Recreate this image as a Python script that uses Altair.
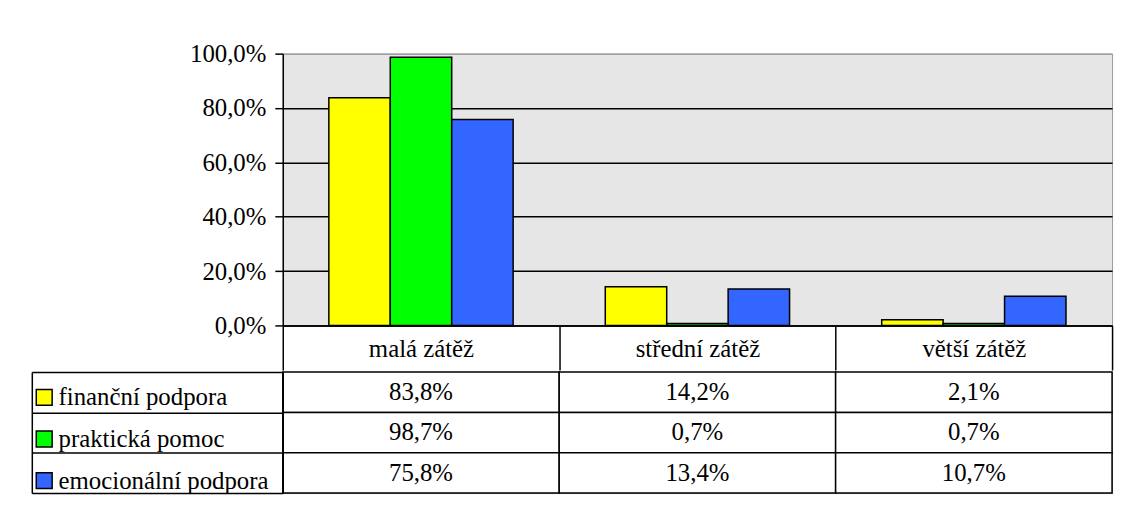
import altair as alt
import pandas as pd

categories = ["malá zátěž", "střední zátěž", "větší zátěž"]
series = ["finanční podpora", "praktická pomoc", "emocionální podpora"]
colors = ["#FFFF00", "#00FF00", "#3366FF"]
financni = [0.838, 0.142, 0.021]
prakticka = [0.987, 0.007, 0.007]
emocionalni = [0.758, 0.134, 0.107]
y_ticks = [0.0, 0.2, 0.4, 0.6, 0.8, 1.0]

rows = []
for s, vals in zip(series, [financni, prakticka, emocionalni]):
    for c, v in zip(categories, vals):
        rows.append({"kategorie": c, "serie": s, "hodnota": v})
df = pd.DataFrame(rows)

FONT = "Liberation Serif"
FS = 25

bars = alt.Chart(df).mark_bar(stroke="black", strokeWidth=1.5).encode(
    x=alt.X("kategorie:N", sort=categories, title=None,
            scale=alt.Scale(paddingInner=0, paddingOuter=0),
            axis=alt.Axis(orient="bottom", domainColor="black", domainWidth=1.5,
                          tickColor="black", tickWidth=1.5, tickSize=45,
                          tickBand="extent", labelAngle=0, labelFont=FONT,
                          labelFontSize=FS, labelColor="black",
                          labelBaseline="middle", labelPadding=-22)),
    xOffset=alt.XOffset("serie:N", sort=series,
                        scale=alt.Scale(paddingInner=0, paddingOuter=0.75)),
    y=alt.Y("hodnota:Q", title=None,
            scale=alt.Scale(domain=[0, 1], nice=False),
            axis=alt.Axis(values=y_ticks,
                          labelExpr="replace(format(datum.value, '.1%'), '.', ',')",
                          labelFont=FONT, labelFontSize=FS, labelColor="black",
                          labelPadding=9, tickSize=8, tickColor="black", tickWidth=1.5,
                          domainColor="black", domainWidth=1.5,
                          grid=True,
                          gridColor={"condition": {"test": "datum.value >= 1", "value": "#9a9a9a"},
                                     "value": "black"},
                          gridWidth=1.5)),
    color=alt.Color("serie:N", sort=series,
                    scale=alt.Scale(domain=series, range=colors),
                    legend=alt.Legend(orient="none", legendX=-253, legendY=334,
                                      title=None, symbolType="square",
                                      symbolSize=256, symbolStrokeColor="black",
                                      symbolStrokeWidth=1.5,
                                      labelFont=FONT, labelFontSize=FS,
                                      labelColor="black", rowPadding=16,
                                      labelOffset=2, labelLimit=0, padding=0)),
).properties(width=836, height=274)

table_base = alt.Chart(df)
cells = table_base.mark_rect(fill="white", stroke="black", strokeWidth=1.5).encode(
    x=alt.X("kategorie:N", sort=categories, title=None,
            scale=alt.Scale(paddingInner=0, paddingOuter=0), axis=None),
    y=alt.Y("serie:N", sort=series, title=None,
            scale=alt.Scale(paddingInner=0, paddingOuter=0),
            axis=alt.Axis(orient="left", labels=False, tickSize=253, tickBand="extent",
                          tickColor="black", tickWidth=1.5,
                          domainColor="black", domainWidth=1.5)),
)
texts = table_base.mark_text(font=FONT, fontSize=FS, color="black").encode(
    x=alt.X("kategorie:N", sort=categories, title=None,
            scale=alt.Scale(paddingInner=0, paddingOuter=0), axis=None),
    y=alt.Y("serie:N", sort=series, title=None,
            scale=alt.Scale(paddingInner=0, paddingOuter=0),
            axis=alt.Axis(orient="left", labels=False, ticks=False, offset=253,
                          domainColor="black", domainWidth=1.5)),
    text=alt.Text("label:N"),
).transform_calculate(
    label="replace(format(datum.hodnota, '.1%'), '.', ',')"
)
table = alt.layer(cells, texts).resolve_axis(y="independent").properties(width=836, height=122)

chart = alt.vconcat(bars, table, spacing=-4).properties(
    padding={"left": 22, "top": 31, "right": 5, "bottom": 5}
).configure_view(
    fill="#e6e6e6", stroke="#9a9a9a"
)

chart.save("out.html", embed_options={"renderer": "svg", "actions": False})
